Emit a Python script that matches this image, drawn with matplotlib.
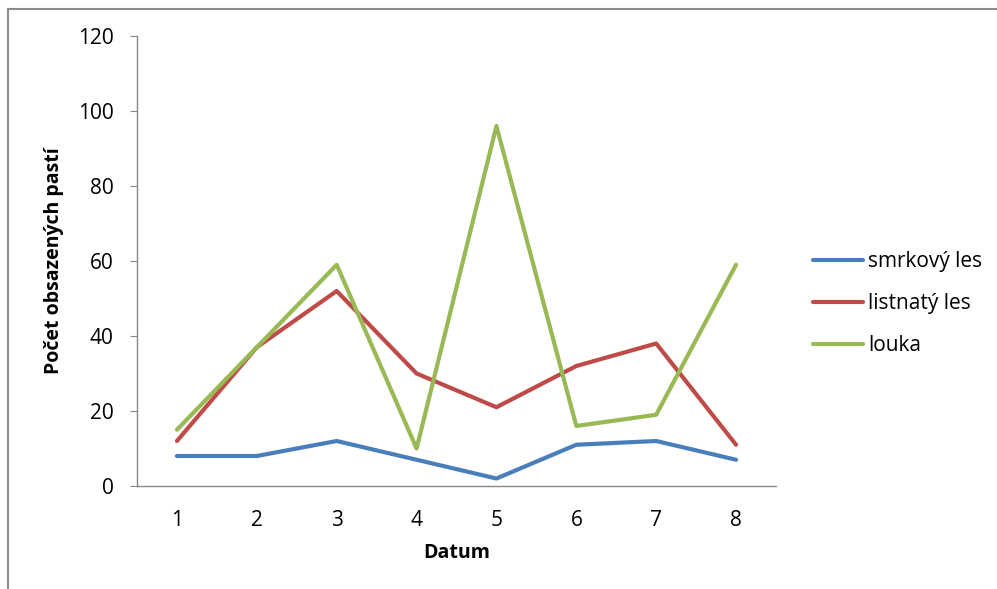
import matplotlib.pyplot as plt
from matplotlib.lines import Line2D

plt.rcParams["font.family"] = ["Open Sans", "DejaVu Sans"]

dates = [1, 2, 3, 4, 5, 6, 7, 8]
smrkovy_les = [8, 8, 12, 7, 2, 11, 12, 7]
listnaty_les = [12, 37, 52, 30, 21, 32, 38, 11]
louka = [15, 37, 59, 10, 96, 16, 19, 59]

series = [
    ("smrkový les", smrkovy_les, "#4A7EBB"),
    ("listnatý les", listnaty_les, "#BE4B48"),
    ("louka", louka, "#98B954"),
]

fig = plt.figure(figsize=(9.97, 5.89), dpi=100)
ax = fig.add_axes([137 / 997, 1 - 486 / 589, 639 / 997, 450 / 589])

for label, vals, color in series:
    ax.plot(dates, vals, color=color, lw=3.0, label=label, solid_capstyle="round")

ax.set_xlim(0.5, 8.5)
ax.set_ylim(0, 120)
ax.set_yticks(range(0, 121, 20))
ax.set_xticks(dates)
ax.tick_params(axis="y", length=5, color="#888888", labelsize=15, pad=12)
ax.tick_params(axis="x", length=0, labelsize=15, pad=17)
for side in ["top", "right"]:
    ax.spines[side].set_visible(False)
for side in ["left", "bottom"]:
    ax.spines[side].set_color("#888888")
    ax.spines[side].set_linewidth(1.0)

ax.set_xlabel("Datum", fontsize=14, fontweight="bold", labelpad=9)
ax.set_ylabel("Počet obsazených pastí", fontsize=14, fontweight="bold", labelpad=10)

ax.legend(loc="center left", bbox_to_anchor=(1.045, 0.405), frameon=False,
          fontsize=15, handlelength=2.4, handletextpad=0.25, labelspacing=1.0,
          borderaxespad=0)

# outer chart frame (top and left edges)
fig.add_artist(Line2D([8 / 997, 1], [1 - 9 / 589, 1 - 9 / 589], color="#8c8c8c", lw=1.5))
fig.add_artist(Line2D([8 / 997, 8 / 997], [0, 1 - 9 / 589], color="#8c8c8c", lw=1.5))

fig.savefig("out.png", dpi=100)
